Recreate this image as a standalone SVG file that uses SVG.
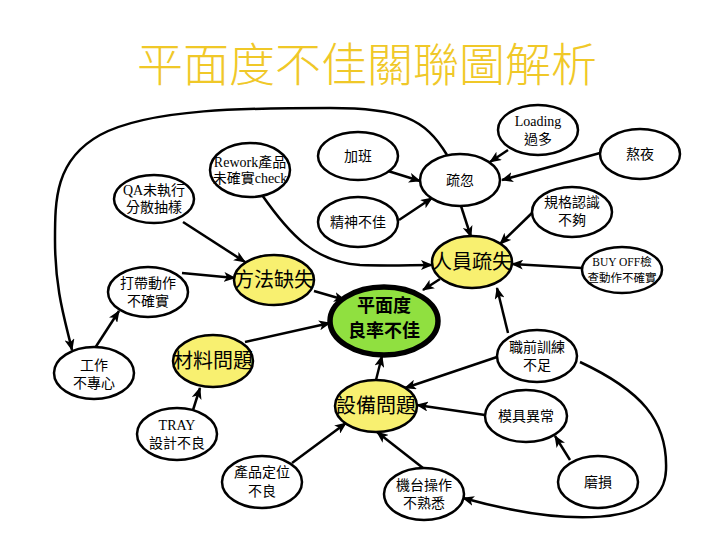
<svg xmlns="http://www.w3.org/2000/svg" width="720" height="540" viewBox="0 0 720 540">
<defs>
<marker id="ah" viewBox="0 0 12 10" refX="11" refY="5" markerWidth="12" markerHeight="10" markerUnits="userSpaceOnUse" orient="auto">
<path d="M0,0 L12,5 L0,10 L3,5 z" fill="#000"/>
</marker>
<style>
.n{fill:#fff;stroke:#000;stroke-width:2.5}
.y{fill:#f8f070;stroke:#000;stroke-width:2.5}
.g{fill:#90e040;stroke:#000;stroke-width:5.5}
.c path{fill:none;stroke:#000;stroke-width:2.5;marker-end:url(#ah)}
text{font-family:"Liberation Serif","Noto Sans CJK TC",serif;text-anchor:middle;fill:#000}
.t{font-size:14px}
.s{font-size:11.5px}
.b{font-size:20px}
.m{font-size:18px;font-weight:bold;font-family:"Noto Sans CJK TC",sans-serif}
.title{font-size:46px;fill:#f0c828;font-family:"Noto Sans CJK TC",sans-serif;font-weight:300}
</style>
</defs>
<rect width="720" height="540" fill="#fff"/>
<text class="title" x="367" y="81">平面度不佳關聯圖解析</text>

<g class="c">
<path d="M388,171 L420,181"/>
<path d="M399,220 L432,198"/>
<path d="M508,150 L490,162"/>
<path d="M600,153 L502,180"/>
<path d="M461,206 L471,237"/>
<path d="M533,212 L500,244"/>
<path d="M582,268 L512,264"/>
<path d="M508,333 L497,288"/>
<path d="M440,279 L423,290"/>
<path d="M314,291 L345,300"/>
<path d="M245,342 L330,323"/>
<path d="M376,380 L382,356"/>
<path d="M183,222 L245,262"/>
<path d="M182,273 L235,278"/>
<path d="M262,195 C290,235 315,262 360,265 C390,266 410,265 432,265"/>
<path d="M447,155 C425,118 400,108 330,108 C250,108 150,108 100,135 C55,160 55,200 55,240 C55,290 65,320 72,350"/>
<path d="M95,348 L119,311"/>
<path d="M193,410 L200,388"/>
<path d="M292,463 L346,423"/>
<path d="M423,468 L377,432"/>
<path d="M497,357 L405,388"/>
<path d="M485,415 L417,405"/>
<path d="M570,460 L555,436"/>
<path d="M580,362 C640,390 668,420 666,470 C664,530 560,525 463,498"/>
</g>

<g id="loading"><ellipse class="n" cx="538" cy="130" rx="40" ry="25"/><text class="t" x="538" y="126">Loading</text><text class="t" x="538" y="144">過多</text></g>
<g id="aoye"><ellipse class="n" cx="640" cy="154" rx="40" ry="25"/><text class="t" x="640" y="159">熬夜</text></g>
<g id="jiaban"><ellipse class="n" cx="358" cy="156" rx="40" ry="24"/><text class="t" x="358" y="161">加班</text></g>
<g id="shuhu"><ellipse class="n" cx="460" cy="180" rx="40" ry="26"/><text class="t" x="460" y="185">疏忽</text></g>
<g id="jingshen"><ellipse class="n" cx="358" cy="222" rx="40" ry="25"/><text class="t" x="358" y="227">精神不佳</text></g>
<g id="guige"><ellipse class="n" cx="572" cy="212" rx="40" ry="25"/><text class="t" x="572" y="207">規格認識</text><text class="t" x="572" y="225">不夠</text></g>
<g id="renyuan"><ellipse class="y" cx="472" cy="262" rx="40" ry="26"/><text class="b" x="472" y="269">人員疏失</text></g>
<g id="buyoff"><ellipse class="n" cx="622" cy="270" rx="40" ry="23"/><text class="s" x="622" y="266">BUY OFF檢</text><text class="s" x="622" y="282">查動作不確實</text></g>
<g id="rework"><ellipse class="n" cx="250" cy="170" rx="40" ry="27"/><text class="t" x="250" y="167">Rework產品</text><text class="t" x="250" y="183">未確實check</text></g>
<g id="qa"><ellipse class="n" cx="154" cy="199" rx="40" ry="24"/><text class="t" x="154" y="195">QA未執行</text><text class="t" x="154" y="212">分散抽樣</text></g>
<g id="fangfa"><ellipse class="y" cx="274" cy="280" rx="40" ry="25"/><text class="b" x="274" y="287">方法缺失</text></g>
<g id="dadai"><ellipse class="n" cx="148" cy="292" rx="40" ry="25"/><text class="t" x="148" y="288">打帶動作</text><text class="t" x="148" y="306">不確實</text></g>
<g id="gongzuo"><ellipse class="n" cx="94" cy="373" rx="40" ry="26"/><text class="t" x="94" y="370">工作</text><text class="t" x="94" y="388">不專心</text></g>
<g id="cailiao"><ellipse class="y" cx="213" cy="361" rx="40" ry="26"/><text class="b" x="213" y="368">材料問題</text></g>
<g id="tray"><ellipse class="n" cx="177" cy="434" rx="40" ry="26"/><text class="t" x="177" y="430">TRAY</text><text class="t" x="177" y="448">設計不良</text></g>
<g id="dingwei"><ellipse class="n" cx="262" cy="482" rx="40" ry="26"/><text class="t" x="262" y="477">產品定位</text><text class="t" x="262" y="496">不良</text></g>
<g id="main"><ellipse class="g" cx="384" cy="321" rx="54" ry="34"/><text class="m" x="384" y="312">平面度</text><text class="m" x="384" y="337">良率不佳</text></g>
<g id="shebei"><ellipse class="y" cx="376" cy="406" rx="41" ry="26"/><text class="b" x="376" y="413">設備問題</text></g>
<g id="zhiqian"><ellipse class="n" cx="537" cy="356" rx="40" ry="26"/><text class="t" x="537" y="352">職前訓練</text><text class="t" x="537" y="370">不足</text></g>
<g id="muju"><ellipse class="n" cx="526" cy="416" rx="41" ry="26"/><text class="t" x="526" y="421">模具異常</text></g>
<g id="mosun"><ellipse class="n" cx="598" cy="482" rx="40" ry="26"/><text class="t" x="598" y="487">磨損</text></g>
<g id="jitai"><ellipse class="n" cx="424" cy="494" rx="40" ry="26"/><text class="t" x="424" y="490">機台操作</text><text class="t" x="424" y="508">不熟悉</text></g>
</svg>
